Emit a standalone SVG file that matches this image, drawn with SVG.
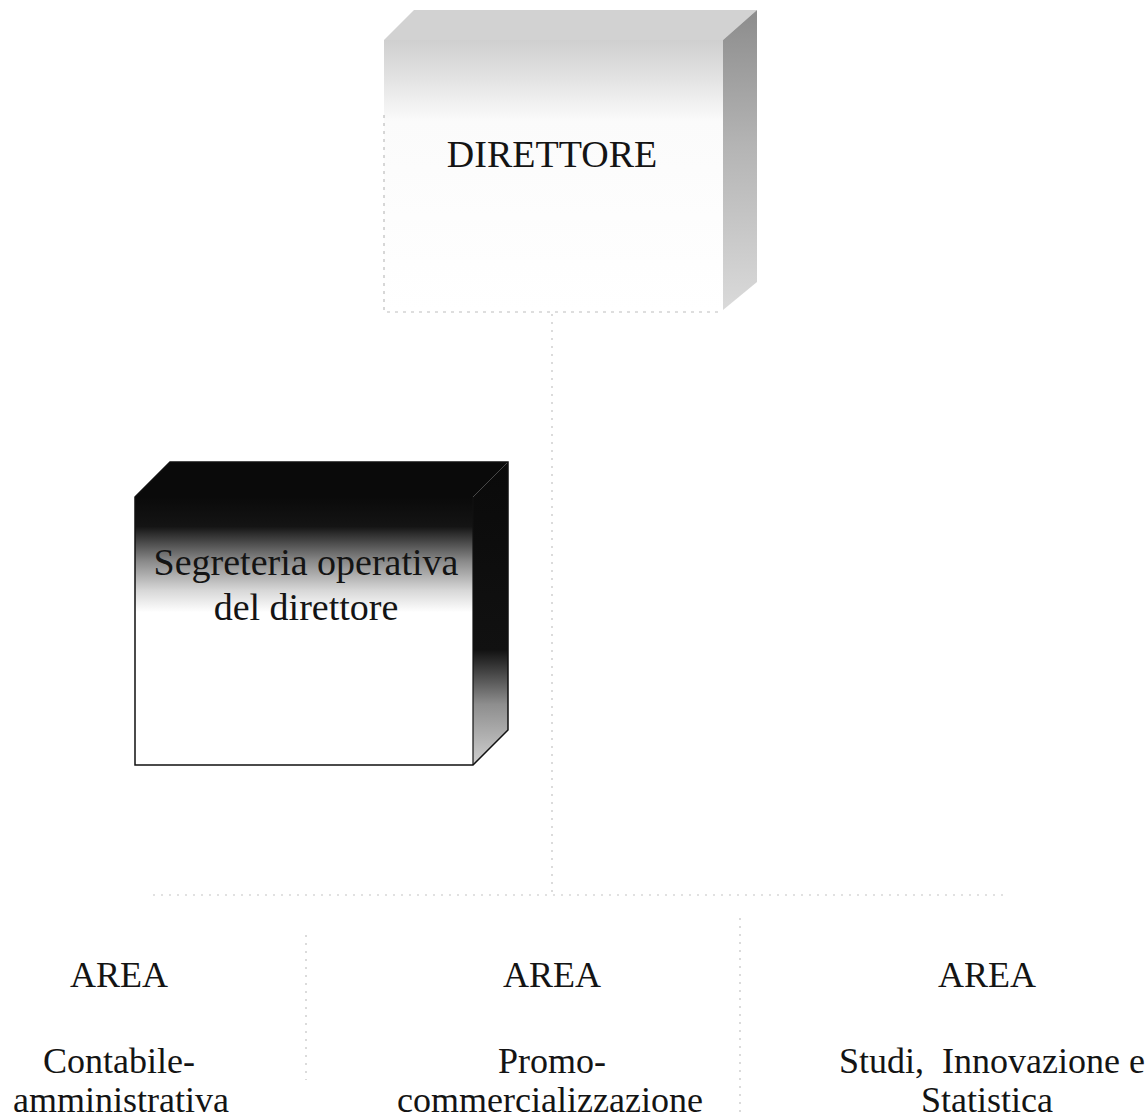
<svg xmlns="http://www.w3.org/2000/svg" width="1147" height="1119" viewBox="0 0 1147 1119">
  <style>
    .t { font-family: "Liberation Serif", "Times New Roman", serif; fill: #141414; text-anchor: middle; }
    .lbl { font-size: 36px; white-space: pre; }
    .big { font-size: 38px; }
    .conn { stroke: #c4c4c4; stroke-width: 1.2; fill: none; stroke-dasharray: 2 6; }
    .faintEdge { stroke: #bdbdbd; stroke-width: 1.2; fill: none; stroke-dasharray: 3 5; }
  </style>
  <defs>
    <linearGradient id="dirFront" x1="0" y1="0" x2="0" y2="1">
      <stop offset="0" stop-color="#cfcfcf"/>
      <stop offset="0.15" stop-color="#e4e4e4"/>
      <stop offset="0.3" stop-color="#fbfbfb"/>
      <stop offset="1" stop-color="#ffffff"/>
    </linearGradient>
    <linearGradient id="dirSide" x1="0" y1="0" x2="0" y2="1">
      <stop offset="0" stop-color="#8c8c8c"/>
      <stop offset="0.45" stop-color="#b4b4b4"/>
      <stop offset="1" stop-color="#dadada"/>
    </linearGradient>
    <linearGradient id="segFront" x1="0" y1="0" x2="0" y2="1">
      <stop offset="0" stop-color="#0a0a0a"/>
      <stop offset="0.11" stop-color="#141414"/>
      <stop offset="0.24" stop-color="#8a8a8a"/>
      <stop offset="0.35" stop-color="#d8d8d8"/>
      <stop offset="0.43" stop-color="#ffffff"/>
      <stop offset="1" stop-color="#ffffff"/>
    </linearGradient>
    <linearGradient id="segSide" x1="0" y1="0" x2="0" y2="1">
      <stop offset="0" stop-color="#0a0a0a"/>
      <stop offset="0.62" stop-color="#111111"/>
      <stop offset="0.8" stop-color="#8e8e8e"/>
      <stop offset="1" stop-color="#cfcfcf"/>
    </linearGradient>
  </defs>

  <g id="connectors">
    <line class="conn" x1="552" y1="314" x2="552" y2="895"/>
    <line class="conn" x1="153" y1="895" x2="1004" y2="895"/>
    <line class="conn" x1="306" y1="935" x2="306" y2="1080"/>
    <line class="conn" x1="740" y1="918" x2="740" y2="1117"/>
  </g>

  <g id="node-direttore">
    <polygon points="384,40 414,10 757,10 723,40" fill="#d2d2d2"/>
    <rect x="384" y="40" width="339" height="272" fill="url(#dirFront)"/>
    <polygon points="723,40 757,10 757,282 723,310" fill="url(#dirSide)"/>
    <polyline class="faintEdge" points="384,115 384,312 722,312"/>
    <text class="t big" x="552" y="167">DIRETTORE</text>
  </g>

  <g id="node-segreteria">
    <polygon points="135,497 170,462 508,462 473,497" fill="#0a0a0a"/>
    <rect x="135" y="497" width="338" height="268" fill="url(#segFront)"/>
    <polygon points="473,497 508,462 508,730 473,765" fill="url(#segSide)"/>
    <polygon points="135,497 170,462 508,462 508,730 473,765 135,765" fill="none" stroke="#111" stroke-width="1.5"/>
    <line x1="473" y1="497" x2="473" y2="765" stroke="#111" stroke-width="1.2"/>
    <text class="t big" x="306" y="575">Segreteria operativa</text>
    <text class="t big" x="306" y="620">del direttore</text>
  </g>

  <g id="node-area-contabile">
    <text class="t lbl" x="119" y="987">AREA</text>
    <text class="t lbl" x="119" y="1073">Contabile-</text>
    <text class="t lbl" x="121" y="1112">amministrativa</text>
  </g>

  <g id="node-area-promo">
    <text class="t lbl" x="552" y="987">AREA</text>
    <text class="t lbl" x="552" y="1073">Promo-</text>
    <text class="t lbl" x="550" y="1112">commercializzazione</text>
  </g>

  <g id="node-area-studi">
    <text class="t lbl" x="987" y="987">AREA</text>
    <text class="t lbl" x="992" y="1073">Studi,  Innovazione e</text>
    <text class="t lbl" x="987" y="1112">Statistica</text>
  </g>
</svg>
